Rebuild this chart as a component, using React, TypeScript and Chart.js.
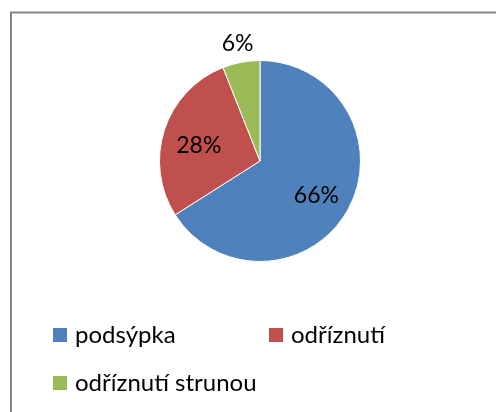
import React, { useEffect, useRef } from "react";
import { Chart, registerables } from "chart.js";

Chart.register(...registerables);

const categories = ["podsýpka", "odříznutí", "odříznutí strunou"];
const values = [66, 28, 6];
const colors = ["#4F81BD", "#C0504D", "#9BBB59"];
const FONT = "Lato, 'Open Sans', sans-serif";

const framePlugin = {
  id: "frame",
  beforeDraw(chart: any) {
    const ctx = chart.ctx;
    ctx.save();
    ctx.fillStyle = "#ffffff";
    ctx.fillRect(0, 0, chart.width, chart.height);
    ctx.strokeStyle = "#868686";
    ctx.lineWidth = 2;
    ctx.strokeRect(11, 12.5, 700, 700);
    ctx.restore();
  },
};

const labelsPlugin = {
  id: "pctLabels",
  afterDraw(chart: any) {
    const ctx = chart.ctx;
    const meta = chart.getDatasetMeta(0);
    const data = chart.data.datasets[0].data as number[];
    const total = data.reduce((a, b) => a + b, 0);
    ctx.save();
    ctx.font = `23px ${FONT}`;
    ctx.fillStyle = "#000000";
    ctx.textAlign = "center";
    ctx.textBaseline = "middle";
    meta.data.forEach((arc: any, i: number) => {
      const { x, y, startAngle, endAngle, outerRadius } = arc.getProps(
        ["x", "y", "startAngle", "endAngle", "outerRadius"],
        true
      );
      const mid = (startAngle + endAngle) / 2;
      const share = data[i] / total;
      const outside = share < 0.1;
      const r = outside ? outerRadius + 19 : outerRadius * 0.64;
      const pct = Math.round(share * 100) + "%";
      ctx.fillText(pct, x + Math.cos(mid) * r, y + Math.sin(mid) * r + (outside ? 0 : 4));
    });
    ctx.restore();
  },
};

const legendCols = [53, 269];
const legendRows = [335, 383];

const legendPlugin = {
  id: "customLegend",
  afterDraw(chart: any) {
    const ctx = chart.ctx;
    const labels = chart.data.labels as string[];
    const bg = chart.data.datasets[0].backgroundColor as string[];
    ctx.save();
    ctx.font = `24px ${FONT}`;
    ctx.textBaseline = "middle";
    ctx.textAlign = "left";
    labels.forEach((lab, i) => {
      const cx = legendCols[i % 2];
      const cy = legendRows[Math.floor(i / 2)];
      ctx.fillStyle = bg[i];
      ctx.fillRect(cx, cy - 7, 14, 14);
      ctx.fillStyle = "#000000";
      ctx.fillText(lab, cx + 22, cy);
    });
    ctx.restore();
  },
};

export default function App() {
  const ref = useRef<HTMLCanvasElement | null>(null);
  useEffect(() => {
    if (!ref.current) return;
    const chart = new Chart(ref.current, {
      type: "pie",
      data: {
        labels: categories,
        datasets: [
          {
            data: values,
            backgroundColor: colors,
            borderColor: "#ffffff",
            borderWidth: 1,
          },
        ],
      },
      options: {
        responsive: false,
        animation: false,
        layout: { padding: { left: 159, right: 135, top: 60, bottom: 150 } },
        plugins: {
          legend: { display: false },
          tooltip: { enabled: false },
        },
      },
      plugins: [framePlugin, labelsPlugin, legendPlugin],
    });
    return () => chart.destroy();
  }, []);
  return (
    <div style={{ position: "absolute", left: 0, top: 0, width: 496, height: 412 }}>
      <canvas ref={ref} width={496} height={412} style={{ display: "block" }} />
    </div>
  );
}
